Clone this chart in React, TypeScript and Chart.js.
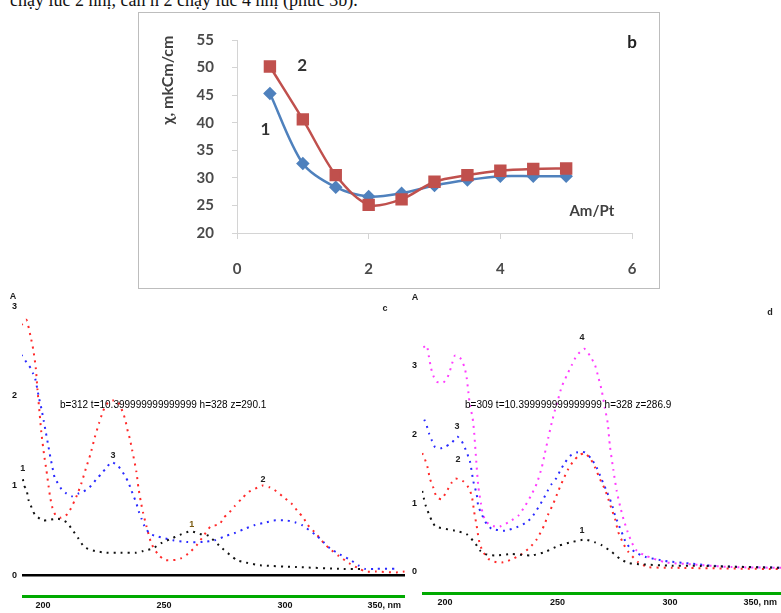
import React, { useEffect, useRef } from "react";
import { Chart, registerables } from "chart.js";

Chart.register(...registerables);

// ---------- panel b ----------
const bAmPt = [0.5, 1, 1.5, 2, 2.5, 3, 3.5, 4, 4.5, 5];
const bSeries1 = [45.3, 32.6, 28.3, 26.6, 27.2, 28.6, 29.6, 30.3, 30.3, 30.3];
const bSeries2 = [50.2, 40.6, 30.5, 25.1, 26.1, 29.3, 30.5, 31.3, 31.6, 31.7];
const bXTicks = [0, 2, 4, 6];
const bYTicks = [20, 25, 30, 35, 40, 45, 50, 55];

// ---------- panel c (wavelength nm, absorbance) ----------
const cXTicks = [200, 250, 300, 350];
const cXTickLabels = ["200", "250", "300", "350, nm"];
const cYTicks = [0, 1, 2, 3];
const cCurve1: [number, number][] = [
  [191.7, 1.07], [192.1, 1.0], [193.1, 0.96], [194, 0.84], [194.9, 0.78], [195.9, 0.71], [196.8, 0.67],
  [200, 0.61], [206.2, 0.63], [209.7, 0.59], [212, 0.51], [214.6, 0.41], [217.2, 0.31], [221.4, 0.27],
  [226.2, 0.25], [232, 0.25], [238.6, 0.25], [241.4, 0.27], [245.5, 0.3], [249, 0.36], [252.4, 0.4],
  [256.6, 0.45], [261, 0.49], [264.8, 0.46], [268.3, 0.44], [274, 0.3], [280, 0.17], [283.9, 0.14],
  [289.7, 0.11], [304.8, 0.09], [324.1, 0.07], [332.4, 0.07],
];
const cCurve2: [number, number][] = [
  [191, 2.79], [193.1, 2.85], [194.8, 2.67], [196, 2.51], [197, 2.31], [197.7, 2.07], [198.6, 1.8],
  [199.3, 1.59], [200.4, 1.35], [201.4, 1.17], [202.3, 0.99], [203, 0.86], [203.9, 0.75], [205.2, 0.67],
  [207.5, 0.64], [210, 0.68], [212, 0.77], [213, 0.83], [214, 0.89], [215.9, 1.03], [217.7, 1.19],
  [219.6, 1.35], [221.4, 1.54], [223.2, 1.7], [224.8, 1.83], [226.9, 1.93], [229, 1.95], [231, 1.93],
  [233.1, 1.81], [234.1, 1.72], [234.8, 1.63], [235.8, 1.53], [236.8, 1.4], [238.6, 1.15], [239.4, 0.98],
  [240.4, 0.82], [241.4, 0.69], [242.8, 0.54], [244.8, 0.35], [247.6, 0.23], [250.3, 0.17], [254.9, 0.17],
  [257.2, 0.19], [260, 0.24], [263.4, 0.33], [266.1, 0.43], [269.2, 0.54], [273, 0.57], [274.6, 0.64],
  [276.7, 0.69], [279.2, 0.77], [282, 0.85], [285.1, 0.93], [288.9, 0.98], [290.9, 1.0], [293.7, 0.98],
  [295.7, 0.95], [299, 0.88], [303, 0.79], [305.6, 0.7], [307.4, 0.65], [309.4, 0.56], [312.9, 0.46],
  [316.3, 0.35], [319.1, 0.28], [321.9, 0.22], [326.7, 0.13], [330.8, 0.07], [333.3, 0.04], [337.7, 0.04],
  [346, 0.03], [349.4, 0.04],
];
const cCurve3: [number, number][] = [
  [191, 2.46], [193.8, 2.35], [194.9, 2.31], [195.9, 2.25], [196.8, 2.19], [198.3, 1.98], [199.3, 1.86],
  [200.3, 1.72], [201.1, 1.6], [202.2, 1.44], [203, 1.32], [203.9, 1.2], [204.8, 1.09], [207.6, 0.96],
  [209.7, 0.91], [212, 0.88], [214.5, 0.91], [216.6, 0.93], [220, 1.0], [222, 1.07], [224.1, 1.13],
  [225.9, 1.19], [228.3, 1.26], [231, 1.22], [233.8, 1.11], [235.2, 1.04], [236.6, 0.94], [237.6, 0.87],
  [238.6, 0.8], [239.7, 0.7], [240.7, 0.63], [241.7, 0.56], [242.8, 0.51], [244.1, 0.46], [247.6, 0.43],
  [250.3, 0.41], [253.7, 0.39], [259.3, 0.37], [266.1, 0.37], [271, 0.39], [275.8, 0.44], [279.2, 0.47],
  [282.7, 0.51], [287.6, 0.56], [292.4, 0.59], [295.2, 0.61], [300.7, 0.61], [304.1, 0.59], [306.9, 0.56],
  [313.1, 0.44], [315.9, 0.37], [318.6, 0.3], [322.8, 0.23], [327.6, 0.16], [330.3, 0.11], [333.1, 0.07],
  [337.9, 0.07], [346, 0.07],
];

// ---------- panel d ----------
const dXTicks = [200, 250, 300, 350];
const dXTickLabels = ["200", "250", "300", "350, nm"];
const dYTicks = [0, 1, 2, 3];
const dCurve1: [number, number][] = [
  [189.9, 1.18], [190.7, 1.06], [191.4, 0.97], [192.9, 0.84], [194.1, 0.75], [195.9, 0.66], [204.4, 0.6],
  [209.6, 0.55], [213.6, 0.41], [215.6, 0.31], [217.8, 0.26], [222.2, 0.24], [229.6, 0.26], [238.5, 0.24],
  [244.4, 0.29], [250.4, 0.38], [257, 0.44], [262.2, 0.47], [266.7, 0.43], [269.6, 0.39], [274.1, 0.29],
  [277.8, 0.19], [281.5, 0.13], [287.4, 0.11], [300.7, 0.09], [309.6, 0.09], [349.3, 0.06],
];
const dCurve2: [number, number][] = [
  [189.9, 1.73], [191.1, 1.64], [192.3, 1.52], [193.3, 1.36], [194.8, 1.23], [196.3, 1.09], [198.5, 1.06],
  [200.7, 1.17], [203, 1.3], [204.7, 1.36], [208.1, 1.32], [210.4, 1.23], [211.9, 1.11], [213, 0.87],
  [214.1, 0.67], [215.1, 0.46], [216.6, 0.31], [219.3, 0.19], [223, 0.14], [225.9, 0.14], [229.6, 0.18],
  [234.1, 0.26], [237.8, 0.36], [240.7, 0.47], [244.1, 0.68], [245.9, 0.84], [248.1, 0.99], [250.4, 1.18],
  [252.6, 1.35], [254.8, 1.5], [257, 1.61], [259.3, 1.69], [261.9, 1.73], [264.4, 1.66], [266.7, 1.52],
  [268.9, 1.35], [271.1, 1.2], [272.6, 1.06], [274.1, 0.91], [275.6, 0.77], [277, 0.58], [279.3, 0.41],
  [281.5, 0.29], [285.9, 0.14], [290.4, 0.07], [300.7, 0.06], [349.3, 0.04],
];
const dCurve3: [number, number][] = [
  [190.8, 2.22], [191.9, 2.13], [192.9, 2.02], [194.1, 1.92], [195.6, 1.82], [198, 1.8], [200, 1.82],
  [203, 1.88], [205.5, 1.97], [207.5, 1.9], [209.2, 1.78], [211.1, 1.61], [212.6, 1.32], [214.1, 1.13],
  [214.8, 0.96], [216.6, 0.82], [218.5, 0.7], [220.7, 0.63], [226.7, 0.6], [232.6, 0.66], [235.6, 0.71],
  [238.5, 0.79], [241.5, 0.94], [243.7, 1.06], [245.6, 1.18], [247.4, 1.28], [249.6, 1.37], [251.1, 1.47],
  [253.3, 1.59], [255.6, 1.69], [258.5, 1.74], [262.2, 1.74], [265.2, 1.64], [267.4, 1.52], [269.6, 1.35],
  [271.9, 1.17], [274.1, 0.99], [275.6, 0.82], [277, 0.7], [278.5, 0.58], [280.7, 0.41], [284.4, 0.29],
  [288.9, 0.22], [297.8, 0.16], [309.6, 0.12], [323, 0.08], [349.3, 0.06],
];
const dCurve4: [number, number][] = [
  [190.4, 3.27], [191.9, 3.3], [192.9, 3.13], [193.8, 2.97], [194.8, 2.86], [196.3, 2.77], [199.3, 2.76],
  [201.2, 2.84], [202.7, 2.98], [204.4, 3.15], [206.7, 3.12], [208.6, 2.99], [209.6, 2.84], [210.4, 2.62],
  [211.1, 2.43], [212.3, 2.24], [213, 2.02], [213.8, 1.66], [214.8, 1.25], [216, 0.99], [217, 0.82],
  [219.3, 0.7], [222.2, 0.66], [224.4, 0.66], [229.6, 0.75], [232.6, 0.82], [235.6, 0.96], [238.2, 1.11],
  [240.7, 1.28], [243, 1.52], [244.4, 1.73], [245.9, 1.95], [247.4, 2.17], [248.9, 2.36], [250.4, 2.53],
  [251.9, 2.7], [254.1, 2.86], [256.3, 3.01], [258.5, 3.15], [261.9, 3.25], [264.4, 3.15], [266.7, 3.01],
  [268.1, 2.84], [269.6, 2.65], [271.1, 2.38], [272.3, 2.17], [273.3, 1.83], [274.8, 1.49], [276.3, 1.18],
  [277.8, 0.96], [279.3, 0.77], [281.2, 0.58], [283, 0.43], [285.2, 0.31], [288.9, 0.24], [297.8, 0.14],
  [309.6, 0.11], [327.4, 0.07], [349.3, 0.06],
];

type Note = {
  text: string; x: number; y: number; font: string; color: string;
  px?: boolean; rotate?: number; align?: CanvasTextAlign;
};

const notesPlugin = {
  id: "notes",
  afterDraw(chart: any, _args: any, opts: any) {
    const { ctx, chartArea } = chart;
    const xs = chart.scales.x;
    const ys = chart.scales.y;
    ctx.save();
    const w = chartArea.right - chartArea.left;
    if (opts.baseLine) {
      ctx.fillStyle = "#00aa00";
      ctx.fillRect(chartArea.left, Math.round(chartArea.bottom) - opts.baseLine, w, opts.baseLine + 1);
    }
    ctx.fillStyle = "#000";
    if (opts.zeroLine) {
      const py = ys.getPixelForValue(0);
      ctx.fillRect(chartArea.left, Math.round(py - opts.zeroLine / 2), w, opts.zeroLine);
    }
    if (opts.xTicks) {
      ctx.font = opts.tickFont;
      ctx.fillStyle = opts.tickColor;
      ctx.textBaseline = "middle";
      ctx.textAlign = "center";
      opts.xTicks.forEach((v: number, i: number) => {
        const label = opts.xLabels[i];
        const lw = ctx.measureText(label).width;
        let cx = xs.getPixelForValue(v);
        cx = Math.min(cx, chartArea.right - opts.edge - lw / 2);
        ctx.fillText(label, cx, chartArea.bottom + opts.labelGap);
      });
      ctx.textAlign = "left";
      ctx.font = "10px sans-serif";
      ctx.fillStyle = "#000";
      ctx.fillText(`b=${chartArea.bottom} t=${chartArea.top} h=${chart.height} z=${ys.getPixelForValue(0).toFixed(1)}`, 60, 120);
    }
    for (const n of (opts.items || []) as Note[]) {
      const px = n.px ? n.x : xs.getPixelForValue(n.x);
      const py = n.px ? n.y : ys.getPixelForValue(n.y);
      ctx.save();
      ctx.translate(px, py);
      if (n.rotate) ctx.rotate(n.rotate);
      ctx.font = n.font;
      ctx.fillStyle = n.color;
      ctx.textAlign = n.align || "center";
      ctx.textBaseline = "middle";
      ctx.fillText(n.text, 0, 0);
      ctx.restore();
    }
    ctx.restore();
  },
};

function useChart(ref: React.RefObject<HTMLCanvasElement>, make: () => any) {
  useEffect(() => {
    if (!ref.current) return;
    const chart = new Chart(ref.current, make());
    return () => chart.destroy();
  }, []);
}

const pairs = (arr: [number, number][]) => arr.map(([x, y]) => ({ x, y }));

function PanelB() {
  const ref = useRef<HTMLCanvasElement>(null);
  useChart(ref, () => {
    const tickFont = { family: "Lato", size: 15, weight: "bold" as const };
    const axisGray = "#d4d4d4";
    return {
      type: "line",
      data: {
        datasets: [
          {
            label: "2",
            data: bAmPt.map((x, i) => ({ x, y: bSeries2[i] })),
            borderColor: "#C0504D",
            backgroundColor: "#C0504D",
            borderWidth: 2.5,
            pointStyle: "rect",
            pointRadius: 7,
            tension: 0.3,
            order: 0,
          },
          {
            label: "1",
            data: bAmPt.map((x, i) => ({ x, y: bSeries1[i] })),
            borderColor: "#4F81BD",
            backgroundColor: "#4F81BD",
            borderWidth: 2.5,
            pointStyle: "rectRot",
            pointRadius: 5,
            tension: 0.3,
            order: 1,
          },
        ],
      },
      plugins: [notesPlugin],
      options: {
        animation: false,
        responsive: false,
        maintainAspectRatio: false,
        layout: { padding: { top: 20, right: 27, left: 0, bottom: 0 } },
        plugins: {
          legend: { display: false },
          tooltip: { enabled: false },
          notes: {
            items: [
              { text: "χ, mkCm/cm", x: 29, y: 67, px: true, rotate: -Math.PI / 2, font: "bold 16px Lato", color: "#404040" },
              { text: "1", x: 0.43, y: 38.7, font: "bold 17px Lato", color: "#333" },
              { text: "2", x: 0.99, y: 50.3, font: "bold 17px Lato", color: "#333" },
              { text: "Am/Pt", x: 5.39, y: 24.0, font: "bold 15px Lato", color: "#404040" },
              { text: "b", x: 6.0, y: 54.6, font: "bold 17px Lato", color: "#222" },
            ],
          },
        },
        scales: {
          x: {
            type: "linear",
            min: 0,
            max: 6,
            afterFit: (s: any) => { s.height = 55; },
            afterBuildTicks: (s: any) => { s.ticks = bXTicks.map((v) => ({ value: v })); },
            ticks: { font: tickFont, color: "#4a4a4a", padding: 21 },
            grid: { display: true, drawOnChartArea: false, drawTicks: true, tickLength: 6, color: axisGray },
            border: { display: true, color: axisGray, width: 1 },
          },
          y: {
            type: "linear",
            min: 20,
            max: 55,
            afterFit: (s: any) => { s.width = 98; },
            afterBuildTicks: (s: any) => { s.ticks = bYTicks.map((v) => ({ value: v })); },
            ticks: { font: tickFont, color: "#4a4a4a", padding: 18 },
            grid: { display: true, drawOnChartArea: false, drawTicks: true, tickLength: 5, color: axisGray },
            border: { display: true, color: axisGray, width: 1 },
          },
        },
      },
    };
  });
  return <canvas ref={ref} width={520} height={275} style={{ display: "block" }} />;
}

function spectrumConfig(opts: {
  series: { data: [number, number][]; color: string }[];
  xMin: number; xMax: number; yMin: number; yMax: number;
  yTicks: number[]; xTicks: number[]; xLabels: string[];
  padTop: number; padRight: number; yWidth: number; xHeight: number;
  zeroLine: number; items: Note[];
}) {
  const tickFont = { family: "Liberation Sans", size: 9, weight: "bold" as const };
  return {
    type: "line",
    data: {
      datasets: opts.series.map((s) => ({
        data: pairs(s.data),
        borderColor: s.color,
        borderWidth: 2,
        borderDash: [2, 5],
        pointRadius: 0,
        tension: 0.2,
        fill: false,
      })),
    },
    plugins: [notesPlugin],
    options: {
      animation: false,
      responsive: false,
      maintainAspectRatio: false,
      layout: { padding: { top: opts.padTop, right: opts.padRight, left: 0, bottom: 0 } },
      plugins: {
        legend: { display: false },
        tooltip: { enabled: false },
        notes: {
          zeroLine: opts.zeroLine,
          baseLine: 2,
          xTicks: opts.xTicks,
          xLabels: opts.xLabels,
          tickFont: "bold 9px 'Liberation Sans'",
          tickColor: "#111",
          edge: 4,
          labelGap: 9,
          items: opts.items,
        },
      },
      scales: {
        x: {
          type: "linear",
          min: opts.xMin,
          max: opts.xMax,
          afterFit: (s: any) => { s.height = opts.xHeight; },
          ticks: { display: false },
          grid: { display: false, drawTicks: false },
          border: { display: false },
        },
        y: {
          type: "linear",
          min: opts.yMin,
          max: opts.yMax,
          afterFit: (s: any) => { s.width = opts.yWidth; },
          afterBuildTicks: (s: any) => { s.ticks = opts.yTicks.map((v) => ({ value: v })); },
          ticks: { font: tickFont, color: "#111", padding: 5 },
          grid: { display: false, drawTicks: false },
          border: { display: false },
        },
      },
    },
  };
}

function PanelC() {
  const ref = useRef<HTMLCanvasElement>(null);
  useChart(ref, () =>
    spectrumConfig({
      series: [
        { data: cCurve1, color: "#111111" },
        { data: cCurve3, color: "#2a2aff" },
        { data: cCurve2, color: "#ff2a2a" },
      ],
      xMin: 191.3, xMax: 349.6, yMin: -0.244, yMax: 3.122,
      yTicks: cYTicks, xTicks: cXTicks, xLabels: cXTickLabels,
      padTop: 9, padRight: 5, yWidth: 22, xHeight: 16, zeroLine: 2.5,
      items: [
        { text: "A", x: 13, y: 12, px: true, font: "bold 9px 'Liberation Sans'", color: "#222" },
        { text: "1", x: 191.6, y: 1.19, font: "bold 9px 'Liberation Sans'", color: "#222" },
        { text: "3", x: 228.9, y: 1.33, font: "bold 9px 'Liberation Sans'", color: "#222" },
        { text: "1", x: 261.5, y: 0.57, font: "bold 9px 'Liberation Sans'", color: "#7a5a10" },
        { text: "2", x: 290.9, y: 1.07, font: "bold 9px 'Liberation Sans'", color: "#222" },
        { text: "c", x: 341.3, y: 2.98, font: "bold 9px 'Liberation Sans'", color: "#222" },
      ],
    })
  );
  return <canvas ref={ref} width={410} height={328} style={{ display: "block" }} />;
}

function PanelD() {
  const ref = useRef<HTMLCanvasElement>(null);
  useChart(ref, () =>
    spectrumConfig({
      series: [
        { data: dCurve1, color: "#111111" },
        { data: dCurve2, color: "#ff2a2a" },
        { data: dCurve3, color: "#2a2aff" },
        { data: dCurve4, color: "#ff3cff" },
      ],
      xMin: 189.8, xMax: 349.3, yMin: -0.322, yMax: 4.028,
      yTicks: dYTicks, xTicks: dXTicks, xLabels: dXTickLabels,
      padTop: 8, padRight: 0, yWidth: 17, xHeight: 19, zeroLine: 0,
      items: [
        { text: "A", x: 10, y: 13, px: true, font: "bold 9px 'Liberation Sans'", color: "#222" },
        { text: "4", x: 260.9, y: 3.42, font: "bold 9px 'Liberation Sans'", color: "#222" },
        { text: "3", x: 205.4, y: 2.12, font: "bold 9px 'Liberation Sans'", color: "#222" },
        { text: "2", x: 205.8, y: 1.64, font: "bold 9px 'Liberation Sans'", color: "#222" },
        { text: "1", x: 260.9, y: 0.6, font: "bold 9px 'Liberation Sans'", color: "#222" },
        { text: "d", x: 344.4, y: 3.78, font: "bold 9px 'Liberation Sans'", color: "#222" },
      ],
    })
  );
  return <canvas ref={ref} width={376} height={328} style={{ display: "block" }} />;
}

export default function App() {
  return (
    <div
      style={{
        position: "absolute",
        left: 0,
        top: 0,
        width: 781,
        height: 613,
        overflow: "hidden",
        background: "#fff",
      }}
    >
      <div
        style={{
          position: "absolute",
          left: 10,
          top: -9,
          whiteSpace: "nowrap",
          font: "18px 'Liberation Serif'",
          lineHeight: "18px",
          color: "#111",
        }}
      >
        chạy lúc 2 nhị, cân n 2 chạy lúc 4 nhị (phức 3b).
      </div>
      <div style={{ position: "absolute", left: 405, top: 285, zIndex: 0 }}>
        <PanelD />
      </div>
      <div style={{ position: "absolute", left: 0, top: 285, zIndex: 1 }}>
        <PanelC />
      </div>
      <div
        style={{
          position: "absolute",
          left: 138,
          top: 12,
          width: 522,
          height: 277,
          boxSizing: "border-box",
          border: "1px solid #bdbdbd",
          background: "#fff",
          zIndex: 2,
        }}
      >
        <PanelB />
      </div>
    </div>
  );
}
